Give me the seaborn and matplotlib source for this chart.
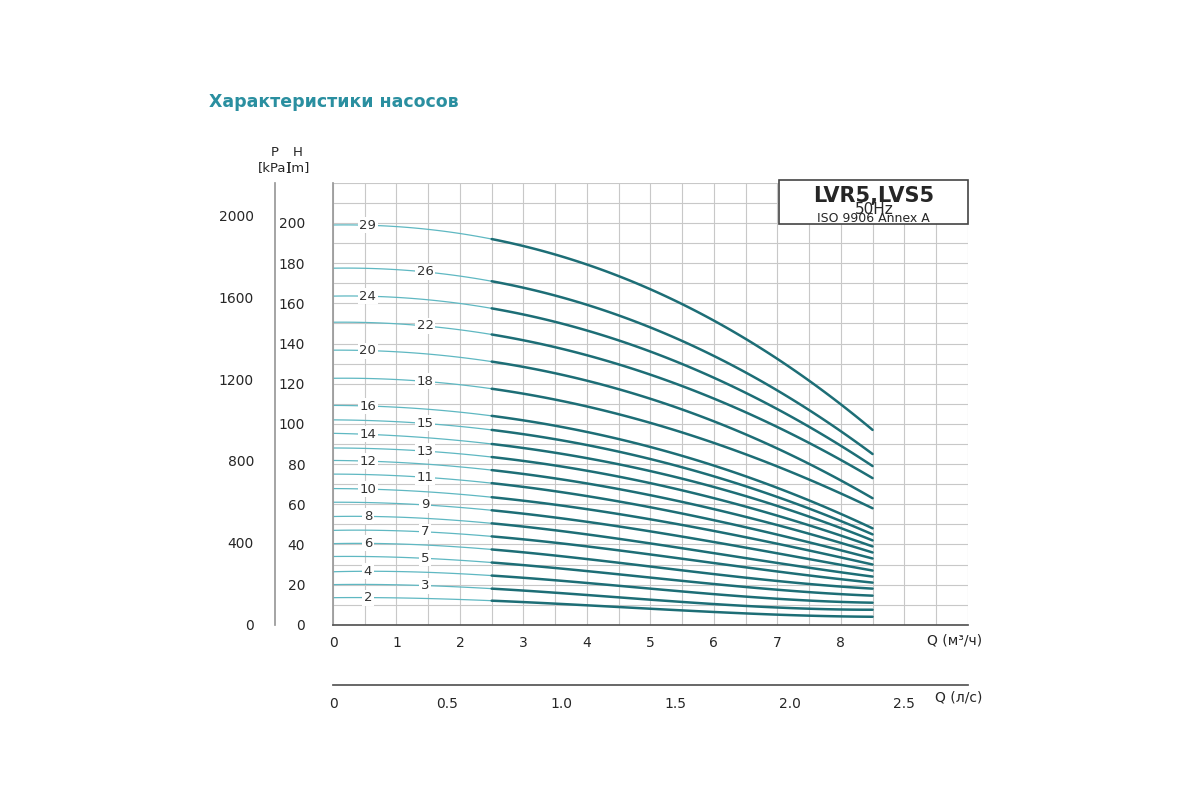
import numpy as np
import matplotlib
matplotlib.use("Agg")
import matplotlib.pyplot as plt
import seaborn as sns
from matplotlib.ticker import MultipleLocator

sns.set_theme(style="white")
plt.rcParams['font.family'] = ['DejaVu Sans']

# stage counts and heads (m) read at Q = 0, 2.5, 5, 8.5 m3/h
stages = [29, 26, 24, 22, 20, 18, 16, 15, 14, 13, 12, 11, 10, 9, 8, 7, 6, 5, 4, 3, 2]
q_read = [0.0, 2.5, 5.0, 8.5]
h_q0 = [199, 177.5, 163.6, 150.6, 136.7, 122.7, 109.2, 102, 95.3, 88, 81.8, 75, 67.8, 61, 53.9, 47, 40.4, 34, 26.4, 20, 13.5]
h_q25 = [192, 171, 157.5, 144.5, 131, 117.5, 104, 97, 90, 83.5, 77, 70.5, 63.5, 57, 50.5, 44, 37.5, 31, 24.5, 18, 12]
h_q5 = [167, 148, 136, 124.5, 112.5, 100.5, 88.5, 82.5, 76.5, 70.5, 64.5, 58.5, 52.5, 46.5, 40.5, 35, 29, 23.5, 18, 12.5, 8]
h_q85 = [97, 85, 79, 73, 63, 58, 48, 45, 42, 39, 36, 33, 30, 27, 24, 21, 18, 14.5, 11, 7.5, 4]
label_left = [29, 24, 20, 16, 14, 12, 10, 8, 6, 4, 2]

teal = "#1d6e76"
light = "#5fb8c2"

fig = plt.figure(figsize=(12, 8), dpi=100)
ax = fig.add_axes([0.2775, 0.219, 0.529, 0.5525])
ax.set_xlim(0, 10)
ax.set_ylim(0, 220)
ax.xaxis.set_minor_locator(MultipleLocator(0.5))
ax.yaxis.set_minor_locator(MultipleLocator(10))
ax.set_xticks(range(0, 9))
ax.set_yticks(range(0, 201, 20))
ax.grid(True, which="both", color="#c8c8c8", lw=0.8)
ax.tick_params(axis="y", which="both", length=18, color="#999999", labelsize=10, pad=2)
ax.tick_params(axis="x", which="both", length=0, pad=8, labelsize=10)
for s in ["top", "right"]:
    ax.spines[s].set_visible(False)
ax.spines["left"].set_color("#999999")
ax.spines["bottom"].set_color("#555555")

for n, a, b, c, d in zip(stages, h_q0, h_q25, h_q5, h_q85):
    coef = np.polyfit(q_read, [a, b, c, d], 3)
    q1 = np.linspace(0, 2.5, 60)
    q2 = np.linspace(2.5, 8.5, 120)
    sns.lineplot(x=q1, y=np.polyval(coef, q1), ax=ax, color=light, lw=0.9)
    sns.lineplot(x=q2, y=np.polyval(coef, q2), ax=ax, color=teal, lw=1.8)
    ql = 0.55 if n in label_left else 1.45
    ax.text(ql, np.polyval(coef, ql), str(n), fontsize=9.5, ha="center", va="center",
            color="#333333", bbox=dict(fc="white", ec="none", pad=1))

ax.text(-0.055, 1.02, "H\n[m]", transform=ax.transAxes, ha="center", va="bottom", fontsize=9.5)
ax.text(9.35, -8, "Q (м³/ч)", ha="left", va="center", fontsize=10, clip_on=False)

# title box
box = plt.Rectangle((7.03, 199.5), 2.97, 22, transform=ax.transData, fill=True,
                    fc="white", ec="#444444", lw=1.2, clip_on=False, zorder=3)
ax.add_patch(box)
ax.text(8.52, 213.5, "LVR5,LVS5", ha="center", va="center", fontsize=15, fontweight="bold", zorder=4)
ax.text(8.52, 206.5, "50Hz", ha="center", va="center", fontsize=11, zorder=4)
ax.text(8.52, 202, "ISO 9906 Annex A", ha="center", va="center", fontsize=9, zorder=4)

# pressure axis
pax = fig.add_axes([0.229, 0.219, 0.001, 0.5525])
pax.set_ylim(0, 220 * 9.81)
pax.set_yticks(range(0, 2001, 400))
pax.yaxis.set_minor_locator(MultipleLocator(200))
pax.set_xticks([])
for s in ["top", "right", "bottom"]:
    pax.spines[s].set_visible(False)
pax.spines["left"].set_color("#999999")
pax.tick_params(axis="y", which="both", length=12, color="#999999", labelsize=10, pad=3)
pax.tick_params(axis="y", which="minor", length=8)
pax.text(0, 1.02, "P\n[kPa]", transform=pax.transAxes, ha="center", va="bottom", fontsize=9.5)
pax.patch.set_visible(False)

# l/s axis
lax = fig.add_axes([0.2775, 0.144, 0.529, 0.001])
lax.set_xlim(0, 10 / 3.6)
lax.set_xticks([0, 0.5, 1.0, 1.5, 2.0, 2.5])
lax.set_xticklabels(["0", "0.5", "1.0", "1.5", "2.0", "2.5"])
lax.xaxis.set_minor_locator(MultipleLocator(0.25))
lax.set_yticks([])
for s in ["top", "right", "left"]:
    lax.spines[s].set_visible(False)
lax.spines["bottom"].set_color("#555555")
lax.tick_params(axis="x", which="both", direction="inout", length=10, color="#555555",
                labelsize=10, pad=4)
lax.patch.set_visible(False)
fig.text(0.779, 0.128, "Q (л/с)", ha="left", va="center", fontsize=10)

fig.text(0.174, 0.872, "Характеристики насосов", color="#2a8fa0", fontsize=12.5,
         fontweight="bold", ha="left", va="center")

fig.savefig("out.png", dpi=100)
